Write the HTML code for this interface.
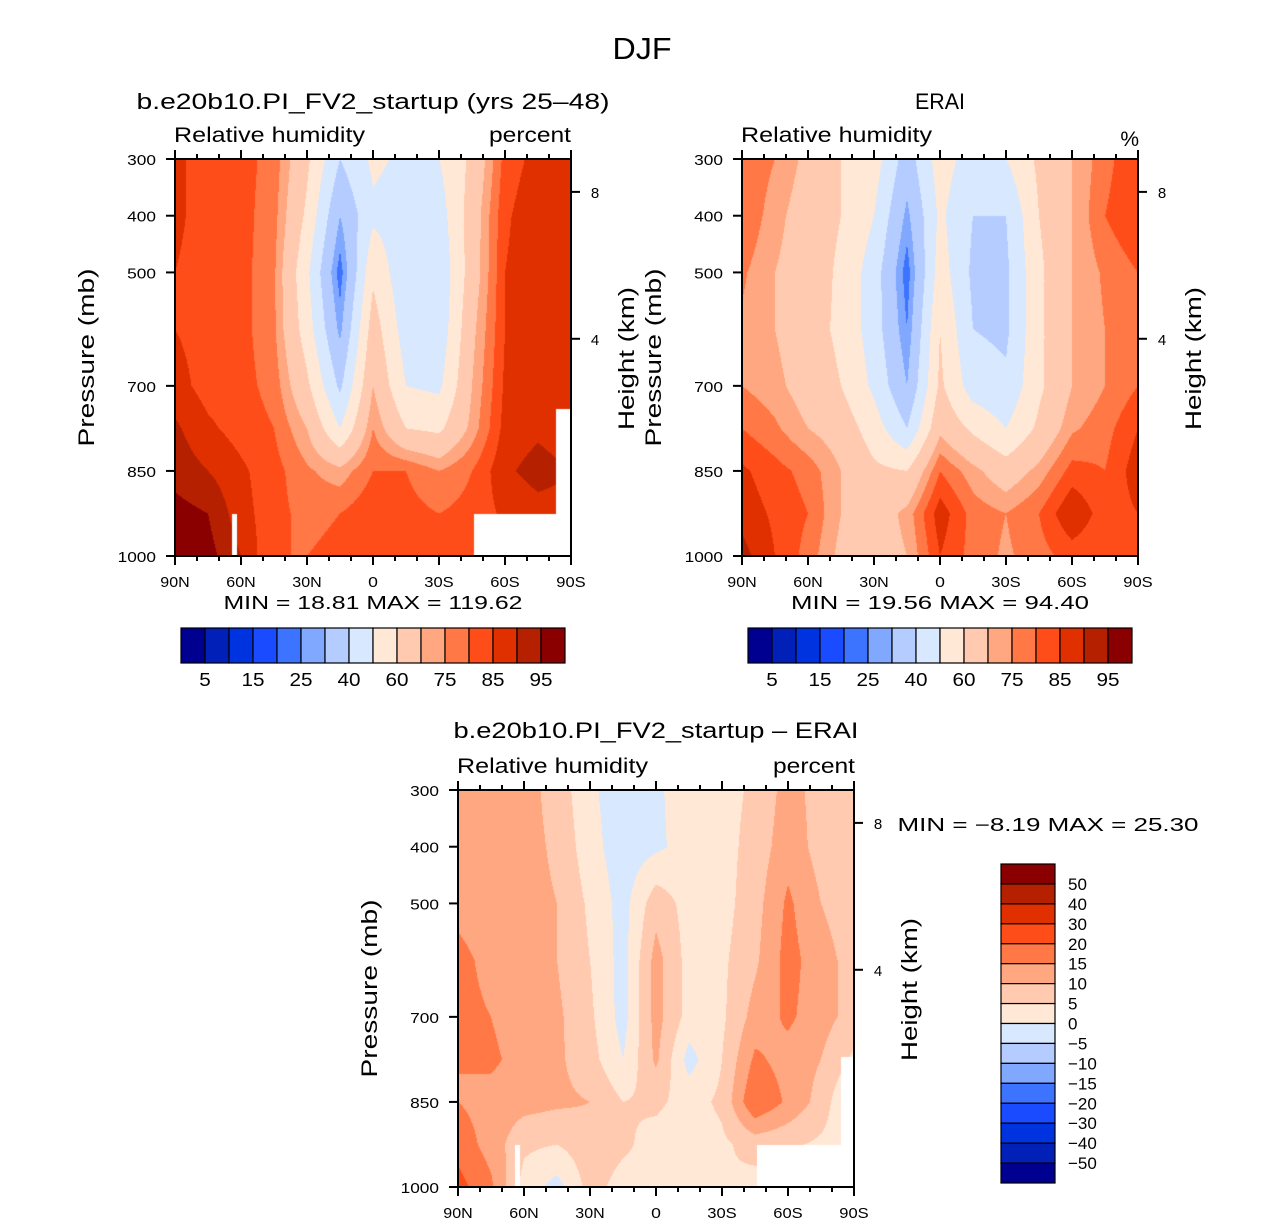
<!DOCTYPE html>
<html><head><meta charset="utf-8"><style>
body{margin:0;background:#fff;width:1285px;height:1225px;position:relative;overflow:hidden;font-family:"Liberation Sans",Helvetica,sans-serif;}
canvas{position:absolute;}
svg{position:absolute;left:0;top:0;}
text{font-family:"Liberation Sans",Helvetica,sans-serif;fill:#000;}
</style></head><body>
<canvas id="c1" width="396" height="397" style="left:175px;top:159px"></canvas>
<canvas id="c2" width="396" height="397" style="left:742px;top:159px"></canvas>
<canvas id="c3" width="396" height="397" style="left:458px;top:790px"></canvas>
<svg id="svg" width="1285" height="1225"></svg>
<script>
const lats=[90,75,60,45,30,15,0,-15,-30,-45,-60,-75,-90];
const plevs=[300,400,500,600,700,775,850,925,1000];
const modelRH=[
[86,83,82,78,62,40,52,48,50,62,82,87,88],
[86,83,82,77,58,30,48,45,45,65,84,89,88],
[85,83,82,76,52,22,58,42,42,65,85,89,88],
[85,83,82,76,55,28,65,45,43,68,85,88,87],
[87,83,82,78,62,38,70,50,48,70,86,87,87],
[91,86,83,80,70,50,75,60,58,72,87,89,87],
[93,90,86,82,76,72,80,80,75,80,89,92,90],
[97,95,87,82,78,80,84,82,80,82,86,88,88],
[97,97,90,80,80,82,82,82,82,82,86,88,88]];
const eraiRH=[
[80,75,68,60,55,35,55,45,50,62,70,78,85],
[80,72,66,60,50,28,52,40,40,60,70,80,85],
[76,70,66,58,45,22,55,38,38,58,70,76,80],
[74,70,64,58,45,25,60,40,38,58,70,75,78],
[75,72,66,60,48,30,62,45,42,58,70,75,80],
[80,76,70,66,55,40,68,58,50,62,74,78,85],
[86,82,78,70,62,60,80,72,65,72,82,80,88],
[88,84,80,70,65,72,88,78,75,80,90,82,85],
[92,85,78,68,65,70,85,78,74,78,82,80,85]];
const diffRH=[
[12,12,12,8,1,-3,-1,3,3,6,12,8,7],
[12,12,12,9,2,-3,-1,2,3,7,13,8,7],
[14,13,12,10,4,-2,8,3,3,8,16,10,7],
[16,14,13,10,5,-2,12,3,4,9,17,12,8],
[16,15,12,11,6,-2,12,3,4,12,16,12,8],
[15,16,13,11,7,0,11,-2,5,16,13,10,4],
[15,13,12,11,10,5,6,3,6,20,14,8,-2],
[18,13,6,5,8,6,3,2,4,7,6,4,2],
[22,16,3,-2,7,3,3,3,5,3,4,3,2]];
// missing-data masks: [latFrom, latTo, pTop, pBottom]
const maskModel=[[-46,-90,926,1000],[-83,-90,740,926],[64,62,926,1000]];
const maskDiff=[[-46,-90,926,1000],[-84,-90,770,926],[64,62,926,1000]];
const absLevels=[5,10,15,20,25,30,40,50,60,70,75,80,85,90,95];
const absLabels=["5","15","25","40","60","75","85","95"];
const diffLevels=[-50,-40,-30,-20,-15,-10,-5,0,5,10,15,20,30,40,50];
const colors=["#000090","#0020b8","#0033e0","#1a4bff","#3d74ff","#80a8ff","#b4ccff","#d8e8ff","#ffe8d6","#ffcab0","#ffa780","#ff7845","#ff4d1a","#e03000","#b52000","#8a0000"];
const xTicks=[90,60,30,0,-30,-60,-90];
const xLabels=["90N","60N","30N","0","30S","60S","90S"];
const yTicks=[300,400,500,700,850,1000];
const hTicks=[{km:8,p:358},{km:4,p:617}];

const W=396,H=397;
const xS=lat=>(90-lat)/180*W;
const yS=p=>(p-300)/700*H;
function rgb(h){return [parseInt(h.substr(1,2),16),parseInt(h.substr(3,2),16),parseInt(h.substr(5,2),16)];}
const cRGB=colors.map(rgb);
function draw(id,grid,levels,masks){
  const ctx=document.getElementById(id).getContext('2d');
  const img=ctx.createImageData(W,H);
  for(let py=0;py<H;py++){
    const p=300+(py+0.5)/H*700;
    let r=0;while(r<plevs.length-2&&p>plevs[r+1])r++;
    const ty=(p-plevs[r])/(plevs[r+1]-plevs[r]);
    for(let px=0;px<W;px++){
      const fx=(px+0.5)/W*(lats.length-1);
      let c=Math.min(Math.floor(fx),lats.length-2);const tx=fx-c;
      const v=(grid[r][c]*(1-tx)+grid[r][c+1]*tx)*(1-ty)+(grid[r+1][c]*(1-tx)+grid[r+1][c+1]*tx)*ty;
      let k=0;while(k<levels.length&&v>=levels[k])k++;
      const lat=90-(px+0.5)/W*180;
      let masked=false;
      for(const m of masks){if(lat<=m[0]&&lat>=m[1]&&p>=m[2]&&p<=m[3])masked=true;}
      const col=masked?[255,255,255]:cRGB[k];
      const i=(py*W+px)*4;img.data[i]=col[0];img.data[i+1]=col[1];img.data[i+2]=col[2];img.data[i+3]=255;
    }
  }
  ctx.putImageData(img,0,0);
}
draw('c1',modelRH,absLevels,maskModel);
draw('c2',eraiRH,absLevels,[]);
draw('c3',diffRH,diffLevels,maskDiff);

const svg=document.getElementById('svg');
const NS='http://www.w3.org/2000/svg';
function el(tag,attrs,txt){const e=document.createElementNS(NS,tag);for(const k in attrs)e.setAttribute(k,attrs[k]);if(txt!==undefined)e.textContent=txt;svg.appendChild(e);return e;}
function txt(x,y,s,size,anchor,name,len,rot){
  const e=el('text',{x:x,y:y,'font-size':size,'text-anchor':anchor||'middle'},s);
  if(len){e.setAttribute('textLength',len);e.setAttribute('lengthAdjust','spacingAndGlyphs');}
  if(rot)e.setAttribute('transform','rotate(-90 '+x+' '+y+')');
  
  
  return e;
}
function axes(X,Y,pre){
  const r=el('rect',{x:X,y:Y,width:W,height:H,fill:'none',stroke:'#000','stroke-width':2});
  
  
  for(let lat=90;lat>=-90;lat-=10){
    const x=X+xS(lat);const major=lat%30===0;const L=major?9:5;
    el('line',{x1:x,x2:x,y1:Y+H,y2:Y+H+L,stroke:'#000','stroke-width':2});
    el('line',{x1:x,x2:x,y1:Y,y2:Y-L,stroke:'#000','stroke-width':2});
  }
  xTicks.forEach((t,i)=>{txt(X+xS(t),Y+H+31,xLabels[i],15,'middle',pre+'-x-tick-label',xLabels[i].length*9.8);});
  yTicks.forEach(p=>{const y=Y+yS(p);
    el('line',{x1:X,x2:X-9,y1:y,y2:y,stroke:'#000','stroke-width':2});
    txt(X-19,y+6,String(p),15,'end',pre+'-y-tick-label',String(p).length*9.6);});
  hTicks.forEach(h=>{const y=Y+yS(h.p);
    el('line',{x1:X+W,x2:X+W+9,y1:y,y2:y,stroke:'#000','stroke-width':2});
    txt(X+W+24,y+6,String(h.km),15,'middle',pre+'-height-tick-label');});
  txt(X-81,Y+H/2,'Pressure (mb)',22,'middle',pre+'-y-axis-title',178,true);
  txt(X+W+63,Y+H/2+1,'Height (km)',22,'middle',pre+'-right-axis-title',143,true);
  txt(X-1,Y-17,'Relative humidity',21,'start',pre+'-variable-label',191);
}
txt(642,59,'DJF',31,'middle','figure-title',59);
axes(175,159,'model');
txt(373,109,'b.e20b10.PI_FV2_startup (yrs 25\u201348)',22,'middle','model-title',473);
txt(571,142,'percent',21,'end','model-units',82);
txt(373,609,'MIN =   18.81   MAX =  119.62',18,'middle','model-minmax',299);
axes(742,159,'erai');
txt(940,109,'ERAI',22,'middle','erai-title',50);
txt(1139,146,'%',21,'end','erai-units');
txt(940,609,'MIN =   19.56   MAX =   94.40',18,'middle','erai-minmax',298);
axes(458,790,'diff');
txt(656,738,'b.e20b10.PI_FV2_startup \u2013 ERAI',22,'middle','diff-title',405);
txt(855,773,'percent',21,'end','diff-units',82);
txt(1048,831,'MIN =   \u22128.19   MAX =   25.30',18,'middle','diff-minmax',301);

function hbar(X,Y,pre){
  colors.forEach((c,i)=>{const r=el('rect',{x:X+i*24,y:Y,width:24,height:35,fill:c,stroke:'#000','stroke-width':1.2});
    
    });
  absLabels.forEach((s,i)=>{txt(X+24*(2*i+1),Y+58,s,18,'middle',pre+'-colorbar-label',s.length*11.5);});
}
hbar(181,628,'model');hbar(748,628,'erai');
const bh=319/16;
colors.slice().reverse().forEach((c,i)=>{const r=el('rect',{x:1001,y:864+i*bh,width:54,height:bh,fill:c,stroke:'#000','stroke-width':1.2});
  
  });
diffLevels.slice().reverse().forEach((v,i)=>{txt(1068,864+(i+1)*bh+6,(v<0?'\u2212':'')+Math.abs(v),17,'start','diff-colorbar-label');});
</script>
</body></html>
